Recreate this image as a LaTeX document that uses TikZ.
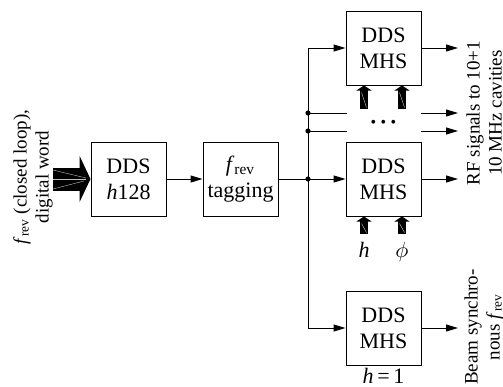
\documentclass[tikz,border=0pt]{standalone}
\usepackage{fontspec}
\setmainfont{Liberation Serif}
\usetikzlibrary{arrows.meta,calc}

\tikzset{
  blk/.style={draw, line width=0.5pt, minimum width=37.5pt, minimum height=37pt,
    inner sep=0pt, align=center, font=\fontsize{11}{13}\selectfont},
  sig/.style={line width=0.5pt, -{Triangle[length=6pt,width=3.5pt]}},
  fat/.style={line width=4pt, -{Triangle[length=2.5pt,width=7.5pt]}},
  side/.style={rotate=90, align=center, font=\fontsize{9.5}{11}\selectfont},
  jdot/.style={circle, fill, inner sep=0pt, minimum size=2.6pt},
  hair/.style={line width=0.2pt},
}

\begin{document}
\begin{tikzpicture}[x=0.5pt, y=-0.5pt]
  \useasboundingbox (0,0) rectangle (503,386);

  \newcommand\frev{\textit{f}\textsubscript{rev}}

  %% blocks
  \node[blk] (dds) at (128.5,179) {DDS\\\textit{h}128};
  \node[blk] (tag) at (240.5,179) {\frev\\tagging};
  \node[blk] (mhsA) at (383.5,48) {DDS\\MHS};
  \node[blk] (mhsB) at (383.5,179) {DDS\\MHS};
  \node[blk] (mhsC) at (383.5,328) {DDS\\MHS};

  %% input word
  \coordinate (in) at (53,179);
  \draw[line width=11.5pt, -{Triangle[length=5.5pt,width=23pt]}] (in) -- (dds.west);
  \draw[hair, gray!50] (53,170) -- (86,178);
  \draw[hair, gray!50] (in) -- (86,179);
  \draw[hair, gray!50] (53,189) -- (84,181);
  \node[side] (word) at (33,177) {\frev{} (closed loop),\\digital word};

  \draw[sig] (dds) -- (tag);
  \draw[sig] (tag) -- (mhsB);

  %% bus
  \coordinate (bt) at (308,48);
  \coordinate (bb) at (308,328);
  \coordinate (j3) at (308,179);
  \draw[line width=0.5pt] (bt) -- (bb);
  \draw[sig] (bt) -- (mhsA.west);
  \draw[sig] (bb) -- (mhsC.west);
  \node[jdot] at (j3) {};

  \foreach \y/\n in {113/1,131/2} {
    \coordinate (j\n) at (308,\y);
    \coordinate (g\n) at (347,\y);
    \coordinate (r\n) at (421,\y);
    \coordinate (o\n) at (458,\y);
    \draw[line width=0.5pt] (j\n) -- (g\n);
    \draw[sig] (r\n) -- (o\n);
    \node[jdot] at (j\n) {};
  }
  \node (dots) at (383.5,124) {\fontsize{8}{8}\selectfont\textbullet\hspace{2.2pt}\textbullet\hspace{2.2pt}\textbullet};

  %% outputs
  \coordinate (oA) at (458,48);
  \coordinate (oB) at (458,179);
  \coordinate (oC) at (458,328);
  \draw[sig] (mhsA) -- (oA);
  \draw[sig] (mhsB) -- (oB);
  \draw[sig] (mhsC) -- (oC);

  %% h and phi
  \foreach \dx in {-19.5,18.5} {
    \draw[fat] ($(mhsA.south)+(\dx,23)$) -- ($(mhsA.south)+(\dx,0)$);
    \draw[hair, gray!40] ($(mhsA.south)+(\dx-2.5,7)$) -- ($(mhsA.south)+(\dx+2.5,22)$);
    \draw[fat] ($(mhsB.south)+(\dx,17)$) -- ($(mhsB.south)+(\dx,0)$);
    \draw[hair, gray!40] ($(mhsB.south)+(\dx-2.5,7)$) -- ($(mhsB.south)+(\dx+2.5,16)$);
  }
  \node[anchor=base, font=\fontsize{11}{13}\selectfont] (lh) at ($(mhsB.south)+(-19.5,41)$) {\textit{h}};
  \node[anchor=base, font=\fontsize{11}{13}\selectfont] (lphi) at ($(mhsB.south)+(18.5,41)$) {$\phi$};
  \node[anchor=base, font=\fontsize{11}{13}\selectfont] (hone) at ($(mhsC.south)+(0,18)$) {\textit{h}\,=\,1};

  \node[side] (rf) at (484,113) {RF signals to 10+1\\10 MHz cavities};
  \node[side] (beam) at (484,327) {Beam synchro-\\nous \frev};
\end{tikzpicture}
\end{document}
